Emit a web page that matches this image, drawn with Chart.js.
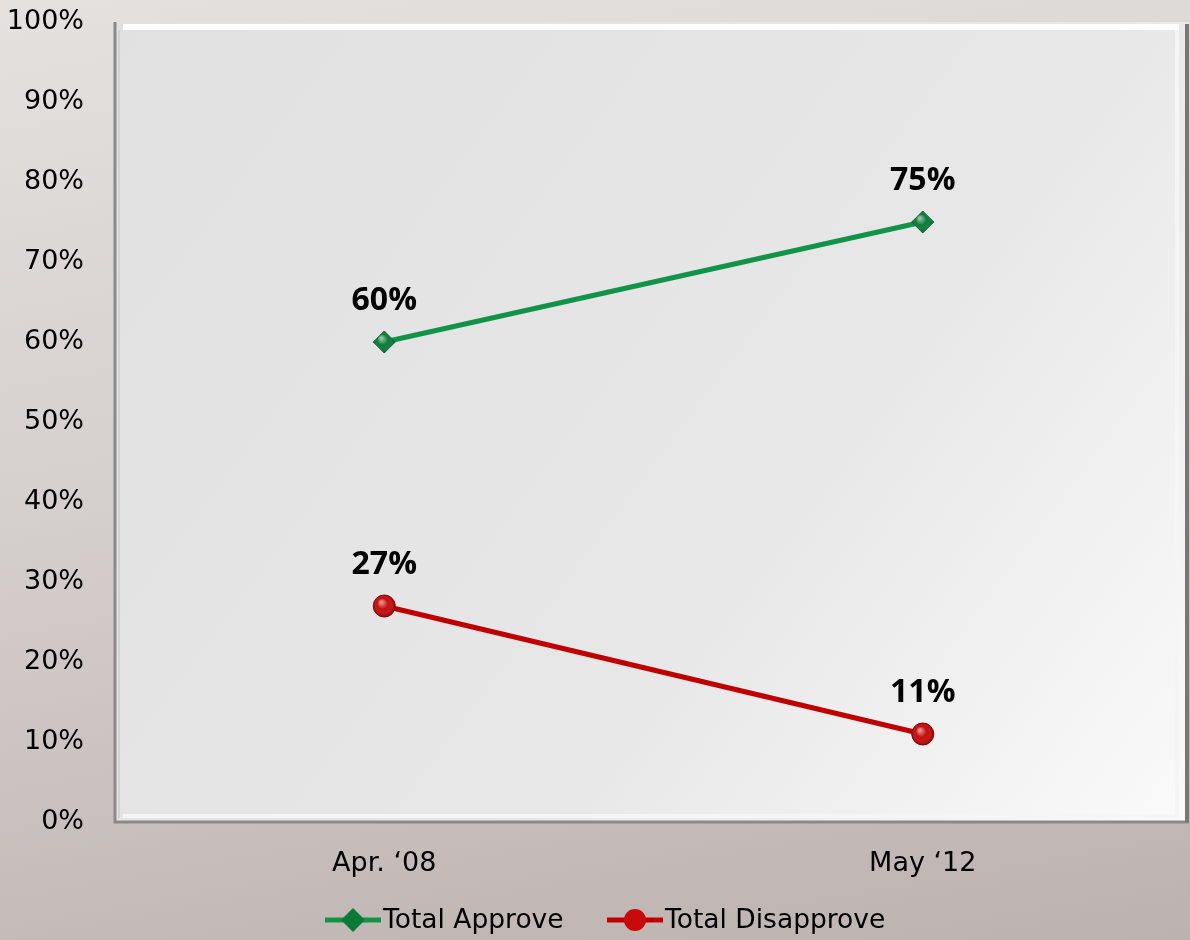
<!DOCTYPE html>
<html>
<head>
<meta charset="utf-8">
<script src="https://cdn.jsdelivr.net/npm/chart.js@4.4.1/dist/chart.umd.min.js"></script>
<style>
  html, body { margin: 0; padding: 0; }
  body {
    width: 1190px; height: 940px; overflow: hidden;
    background: linear-gradient(170deg, #e4e1df 0%, #d5cfcd 45%, #bcb2af 100%);
  }
  #wrap { width: 1192px; height: 940px; }
</style>
</head>
<body>
<div id="wrap"><canvas id="chart"></canvas></div>
<script>
// values
var periods = ["Apr. \u201808", "May \u201812"];
var approve = [60, 75];
var disapprove = [27, 11];
var seriesNames = ["Total Approve", "Total Disapprove"];
var yTicks = [0, 10, 20, 30, 40, 50, 60, 70, 80, 90, 100];

var greenLine = "#119447";
var redLine = "#c00000";
var tickFont = "'DejaVu Sans', sans-serif";

// bevelled plot panel behind the lines
var panel = {
    id: "panel",
    beforeDatasetsDraw: function (chart) {
        var a = chart.chartArea, g = chart.ctx;
        var right = Math.min(a.right, 1189);
        g.save();
        var grad = g.createLinearGradient(a.left, a.top, right, a.bottom);
        grad.addColorStop(0, "#e1e1e1");
        grad.addColorStop(0.6, "#e7e7e7");
        grad.addColorStop(1, "#fafafa");
        g.fillStyle = grad;
        g.fillRect(a.left, a.top, right - a.left, a.bottom - a.top);
        // outer shadow left / bottom / right
        g.strokeStyle = "#8a8a8a";
        g.lineWidth = 3;
        g.beginPath();
        g.moveTo(a.left, a.top); g.lineTo(a.left, a.bottom); g.lineTo(right, a.bottom);
        g.stroke();
        g.strokeStyle = "#777";
        g.lineWidth = 4;
        g.beginPath();
        g.moveTo(right - 2, a.top + 2); g.lineTo(right - 2, a.bottom);
        g.stroke();
        // inner highlight
        g.strokeStyle = "#ffffff";
        g.lineWidth = 6;
        g.beginPath();
        g.moveTo(a.left + 8, a.top + 5); g.lineTo(right - 10, a.top + 5);
        g.stroke();
        g.strokeStyle = "#f5f5f5";
        g.lineWidth = 4;
        g.beginPath();
        g.moveTo(right - 12, a.top + 8); g.lineTo(right - 12, a.bottom - 6);
        g.moveTo(a.left + 8, a.bottom - 6); g.lineTo(right - 12, a.bottom - 6);
        g.stroke();
        g.strokeStyle = "#d2d2d2";
        g.lineWidth = 2;
        g.beginPath();
        g.moveTo(a.left + 4, a.top + 8); g.lineTo(a.left + 4, a.bottom - 4);
        g.stroke();
        g.restore();
    }
};

// shading on markers, value labels and bottom legend
var labelsAndLegend = {
    id: "labelsAndLegend",
    afterDatasetsDraw: function (chart) {
        var g = chart.ctx;
        g.save();
        chart.data.datasets.forEach(function (ds, i) {
            chart.getDatasetMeta(i).data.forEach(function (pt) {
                var sh = g.createRadialGradient(pt.x - 3, pt.y - 4, 1, pt.x, pt.y, 11);
                sh.addColorStop(0, "rgba(255,255,255,0.55)");
                sh.addColorStop(0.45, "rgba(255,255,255,0)");
                sh.addColorStop(1, "rgba(0,0,0,0.25)");
                g.fillStyle = sh;
                g.beginPath();
                if (ds.pointStyle === "rectRot") {
                    g.moveTo(pt.x, pt.y - 11); g.lineTo(pt.x + 11, pt.y); g.lineTo(pt.x, pt.y + 11); g.lineTo(pt.x - 11, pt.y);
                } else {
                    g.arc(pt.x, pt.y, 11, 0, Math.PI * 2);
                }
                g.closePath();
                g.fill();
            });
        });
        g.font = "bold 32px 'Open Sans', Lato, sans-serif";
        g.fillStyle = "#000";
        g.textAlign = "center";
        g.textBaseline = "middle";
        chart.data.datasets.forEach(function (ds, i) {
            chart.getDatasetMeta(i).data.forEach(function (pt, j) {
                g.fillText(ds.data[j] + "%", pt.x, pt.y - 41);
            });
        });
        // legend
        var items = [
            { x: 325, ds: chart.data.datasets[0] },
            { x: 607, ds: chart.data.datasets[1] }
        ];
        var ly = 920;
        g.font = "26.5px " + tickFont;
        g.textAlign = "left";
        items.forEach(function (it) {
            g.strokeStyle = it.ds.borderColor;
            g.lineWidth = 5;
            g.beginPath();
            g.moveTo(it.x, ly); g.lineTo(it.x + 56, ly);
            g.stroke();
            var cx = it.x + 28;
            g.fillStyle = it.ds.pointBackgroundColor;
            g.beginPath();
            if (it.ds.pointStyle === "rectRot") {
                g.moveTo(cx, ly - 12); g.lineTo(cx + 12, ly); g.lineTo(cx, ly + 12); g.lineTo(cx - 12, ly);
            } else {
                g.arc(cx, ly, 11, 0, Math.PI * 2);
            }
            g.closePath();
            g.fill();
            g.fillStyle = "#000";
            g.fillText(it.ds.label, it.x + 58, ly + 1);
        });
        g.restore();
    }
};

var ctx = document.getElementById("chart");
var chart = new Chart(ctx, {
    type: "line",
    data: {
        labels: periods,
        datasets: [
            {
                label: seriesNames[0],
                data: approve,
                borderColor: greenLine,
                borderWidth: 5,
                pointStyle: "rectRot",
                pointRadius: 11,
                pointBackgroundColor: "#0b7a37",
                pointBorderColor: "#0a6a30",
                pointBorderWidth: 1,
                tension: 0
            },
            {
                label: seriesNames[1],
                data: disapprove,
                borderColor: redLine,
                borderWidth: 5,
                pointStyle: "circle",
                pointRadius: 11,
                pointBackgroundColor: "#c80a0a",
                pointBorderColor: "#9a0000",
                pointBorderWidth: 1,
                tension: 0
            }
        ]
    },
    options: {
        responsive: true,
        maintainAspectRatio: false,
        animation: false,
        layout: { autoPadding: false, padding: { top: 22, right: 0, bottom: 0, left: 0 } },
        plugins: {
            legend: { display: false },
            tooltip: { enabled: false }
        },
        scales: {
            x: {
                offset: true,
                grid: { display: false },
                border: { display: false },
                ticks: {
                    color: "#000",
                    padding: 18,
                    font: { size: 27, family: tickFont }
                },
                afterFit: function (scale) { scale.height = 118; }
            },
            y: {
                min: 0,
                max: 100,
                grid: { display: false },
                border: { display: false },
                afterBuildTicks: function (scale) {
                    scale.ticks = yTicks.map(function (v) { return { value: v }; });
                },
                ticks: {
                    color: "#000",
                    padding: 23,
                    font: { size: 27, family: tickFont },
                    callback: function (v) { return v + "%"; }
                },
                afterFit: function (scale) {
                    scale.width = 115;
                    scale.paddingTop = 0;
                    scale.paddingBottom = 0;
                }
            }
        }
    },
    plugins: [panel, labelsAndLegend]
});
</script>
</body>
</html>
